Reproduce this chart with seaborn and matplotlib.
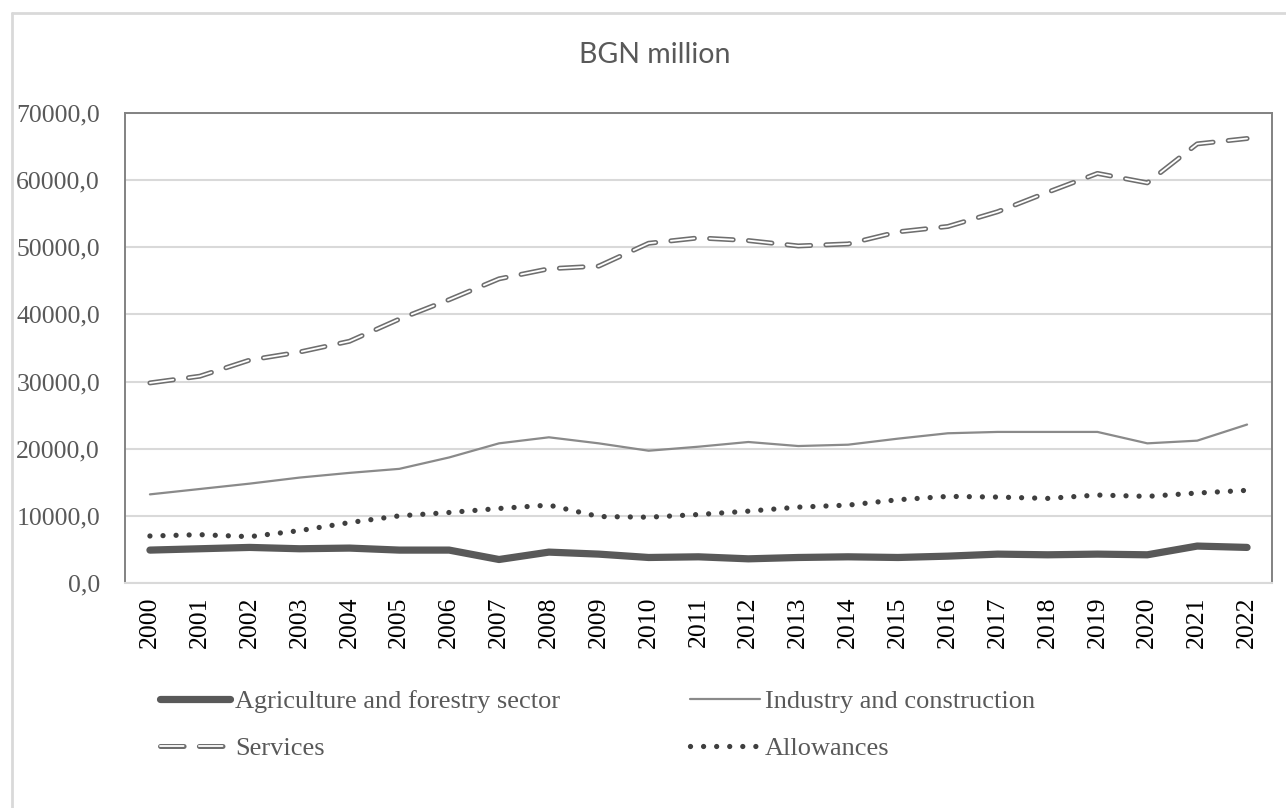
import matplotlib
matplotlib.use("Agg")
import matplotlib.pyplot as plt
from matplotlib.lines import Line2D
from matplotlib.legend_handler import HandlerLine2D
from matplotlib.ticker import FuncFormatter, MultipleLocator
import seaborn as sns
import pandas as pd

years = list(range(2000, 2023))
agriculture = [4900, 5100, 5300, 5100, 5200, 4900, 4900, 3500, 4600, 4300, 3800, 3900,
               3600, 3800, 3900, 3800, 4000, 4300, 4200, 4300, 4200, 5500, 5300]
industry = [13200, 14000, 14800, 15700, 16400, 17000, 18700, 20800, 21700, 20800, 19700, 20300,
            21000, 20400, 20600, 21500, 22300, 22500, 22500, 22500, 20800, 21200, 23600]
services = [29800, 30800, 33200, 34400, 36000, 39300, 42200, 45300, 46800, 47200, 50600, 51400,
            51000, 50200, 50500, 52300, 53100, 55300, 58200, 61000, 59600, 65400, 66200]
allowances = [7000, 7200, 6900, 7800, 9000, 10000, 10500, 11100, 11600, 9900, 9800, 10200,
              10700, 11300, 11600, 12400, 12900, 12800, 12600, 13100, 12900, 13400, 13800]
series_names = ["Agriculture and forestry sector", "Industry and construction",
                "Services", "Allowances"]

df = pd.DataFrame({"pos": range(len(years)),
                   series_names[0]: agriculture,
                   series_names[1]: industry,
                   series_names[2]: services,
                   series_names[3]: allowances})

sns.set_theme(style="white")
plt.rcParams["lines.scale_dashes"] = False
plt.rcParams["font.family"] = ["Liberation Serif", "DejaVu Serif"]

GRAY = "#595959"
SRV_DASH = (17, 11)
fig = plt.figure(figsize=(12.86, 8.08), dpi=100)
ax = fig.add_axes([125 / 1286, 1 - 583 / 808, (1272 - 125) / 1286, (583 - 113) / 808])

# Agriculture: thick solid
sns.lineplot(data=df, x="pos", y=series_names[0], ax=ax, color=GRAY, linewidth=5.2,
             solid_capstyle="round", solid_joinstyle="round", label=series_names[0])
h_agr = ax.lines[-1]
# Industry: thin solid
sns.lineplot(data=df, x="pos", y=series_names[1], ax=ax, color="#8a8a8a", linewidth=1.6,
             label=series_names[1])
h_ind = ax.lines[-1]
# Services: dashed double line (grey outline, white core)
sns.lineplot(data=df, x="pos", y=series_names[2], ax=ax, color="#6e6e6e", linewidth=3.6,
             dash_capstyle="round", label=series_names[2])
h_srv = ax.lines[-1]
h_srv.set_dashes(SRV_DASH)
sns.lineplot(data=df, x="pos", y=series_names[2], ax=ax, color="white", linewidth=1.3,
             dash_capstyle="round", legend=False)
ax.lines[-1].set_dashes(SRV_DASH)
# Allowances: round dots
sns.lineplot(data=df, x="pos", y=series_names[3], ax=ax, color="#3f3f3f", linewidth=3.8,
             dash_capstyle="round", label=series_names[3])
h_all = ax.lines[-1]
h_all.set_dashes((0.01, 9.4))

ax.set_xlim(-0.5, len(years) - 0.5)
ax.set_ylim(0, 70000)
ax.yaxis.set_major_locator(MultipleLocator(10000))
ax.yaxis.set_major_formatter(FuncFormatter(lambda v, p: f"{v:.1f}".replace(".", ",")))
ax.set_xticks(range(len(years)))
ax.set_xticklabels([str(y) for y in years], rotation=90)
ax.set_xlabel("")
ax.set_ylabel("")
ax.grid(axis="y", color="#d9d9d9", linewidth=1.5)
ax.grid(axis="x", visible=False)
ax.set_axisbelow(True)
for side in ("left", "top", "right"):
    ax.spines[side].set_color("#828282")
    ax.spines[side].set_linewidth(1.4)
ax.spines["bottom"].set_color("#d9d9d9")
ax.spines["bottom"].set_linewidth(1.5)
ax.tick_params(axis="y", length=0, pad=18, labelsize=18.5, labelcolor=GRAY)
ax.tick_params(axis="x", length=0, pad=10, labelsize=18.5, labelcolor="black")


class HandlerDouble(HandlerLine2D):
    """Legend handle drawn as a grey dashed outline with a white core."""
    def create_artists(self, legend, orig_handle, xdescent, ydescent, width, height, fontsize, trans):
        arts = super().create_artists(legend, orig_handle, xdescent, ydescent, width, height,
                                      fontsize, trans)
        out = []
        for a in arts:
            out.append(a)
            if isinstance(a, Line2D) and len(a.get_xdata()) > 1:
                inner = Line2D(a.get_xdata(), a.get_ydata(), color="white", linewidth=1.3,
                               dash_capstyle="round")
                inner.set_dashes(SRV_DASH)
                inner.set_transform(trans)
                out.append(inner)
        return out


if ax.get_legend() is not None:
    ax.get_legend().remove()
leg = ax.legend([h_agr, h_srv, h_ind, h_all],
                [series_names[0], series_names[2], series_names[1], series_names[3]],
                handler_map={h_srv: HandlerDouble()},
                ncol=2, loc="upper left", bbox_to_anchor=(160 / 1286, 1 - 690 / 808),
                bbox_transform=fig.transFigure, frameon=False, fontsize=19,
                handlelength=2.65, handletextpad=0.2, columnspacing=4.9, labelspacing=0.88,
                borderaxespad=0, borderpad=0)
for t in leg.get_texts():
    t.set_color(GRAY)

fig.text(655 / 1286, 1 - 55 / 808, "BGN million", ha="center", va="center",
         fontsize=20.5, color=GRAY, family=["Lato", "DejaVu Sans"])

# Outer chart frame
fig.add_artist(Line2D([12 / 1286, 12 / 1286], [0, 1 - 13 / 808], transform=fig.transFigure,
                      color="#d9d9d9", linewidth=2))
fig.add_artist(Line2D([12 / 1286, 1], [1 - 13 / 808, 1 - 13 / 808], transform=fig.transFigure,
                      color="#d9d9d9", linewidth=2))

fig.savefig("out.png", dpi=100, facecolor="white")
